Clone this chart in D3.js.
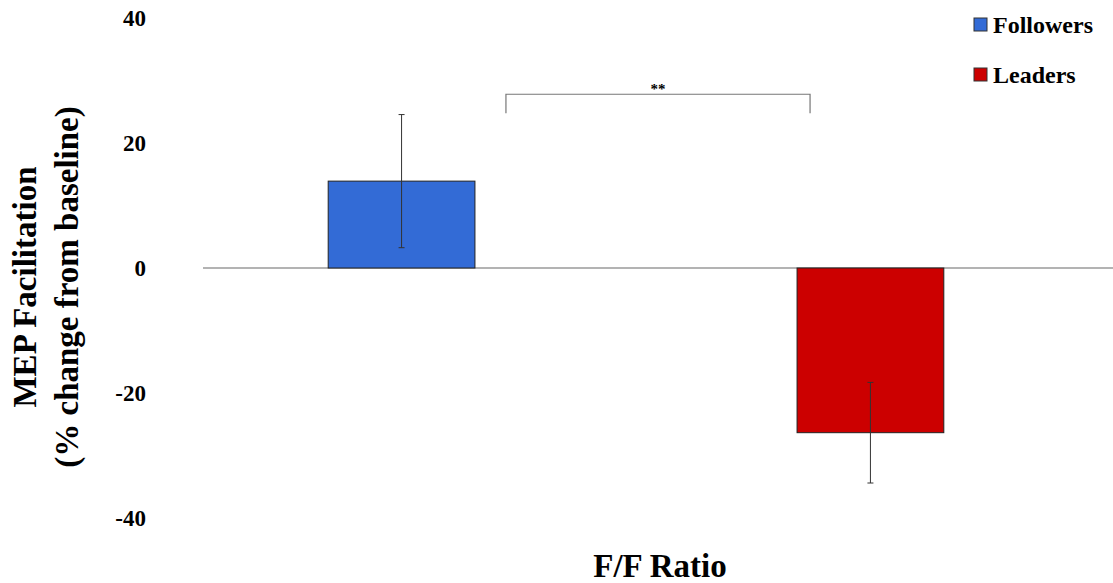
<!DOCTYPE html>
<html>
<head>
<meta charset="utf-8">
<script src="https://cdn.jsdelivr.net/npm/d3@7"></script>
<style>
  html, body { margin: 0; padding: 0; background: #fff; }
  svg { display: block; font-family: "Liberation Serif", "Times New Roman", serif; }
</style>
</head>
<body>
<svg id="chart" width="1113" height="583"></svg>
<script>
// Group means and standard errors (% change from baseline)
const categories = ["Followers", "Leaders"];
const means = [13.9, -26.35];
const errors = [10.65, 8.05];
const colors = ["#336bd6", "#cc0000"];
const yTicks = [40, 20, 0, -20, -40];
const significance = "**";

const svg = d3.select("#chart");

const y = d3.scaleLinear().domain([-40, 40]).range([518, 18]);
const x = d3.scaleBand()
  .domain(categories)
  .range([203, 1069])
  .paddingInner(0.687)
  .paddingOuter(0.267);

// zero baseline across the plot
svg.append("line")
  .attr("x1", 203).attr("x2", 1113)
  .attr("y1", y(0)).attr("y2", y(0))
  .attr("stroke", "#9a9a9a").attr("stroke-width", 1.3);

// y tick labels
svg.append("g").selectAll("text")
  .data(yTicks)
  .join("text")
  .attr("x", 146)
  .attr("y", d => y(d))
  .attr("dy", "0.35em")
  .attr("text-anchor", "end")
  .attr("font-size", 23)
  .attr("font-weight", "bold")
  .text(d => d);

// bars
svg.append("g").selectAll("rect")
  .data(categories)
  .join("rect")
  .attr("x", d => x(d))
  .attr("width", x.bandwidth())
  .attr("y", (d, i) => y(Math.max(0, means[i])))
  .attr("height", (d, i) => Math.abs(y(means[i]) - y(0)))
  .attr("fill", (d, i) => colors[i])
  .attr("stroke", "#222")
  .attr("stroke-width", 1);

// error bars
const eb = svg.append("g").attr("stroke", "#333").attr("stroke-width", 1);
categories.forEach((c, i) => {
  const cx = x(c) + x.bandwidth() / 2;
  const hi = y(means[i] + errors[i]);
  const lo = y(means[i] - errors[i]);
  eb.append("line").attr("x1", cx).attr("x2", cx).attr("y1", hi).attr("y2", lo);
  eb.append("line").attr("x1", cx - 3).attr("x2", cx + 3).attr("y1", hi).attr("y2", hi);
  eb.append("line").attr("x1", cx - 3).attr("x2", cx + 3).attr("y1", lo).attr("y2", lo);
});

// significance bracket between the groups
const bx0 = x("Followers") + x.bandwidth() + 31;
const bx1 = x("Leaders") + 13;
const byTop = y(27.8), byEnd = y(24.75);
svg.append("path")
  .attr("d", `M${bx0},${byEnd}V${byTop}H${bx1}V${byEnd}`)
  .attr("fill", "none")
  .attr("stroke", "#777")
  .attr("stroke-width", 1.2);
svg.append("text")
  .attr("x", (bx0 + bx1) / 2)
  .attr("y", byTop - 0.5)
  .attr("text-anchor", "middle")
  .attr("font-size", 15)
  .attr("font-weight", "bold")
  .text(significance);

// y axis title
const yTitle = svg.append("text")
  .attr("transform", "translate(0,287) rotate(-90)")
  .attr("text-anchor", "middle")
  .attr("font-size", 33)
  .attr("font-weight", "bold");
yTitle.append("tspan").attr("x", 0).attr("y", 36).text("MEP Facilitation");
yTitle.append("tspan").attr("x", 0).attr("y", 78).text("(% change from baseline)");

// x axis title
svg.append("text")
  .attr("x", 660)
  .attr("y", 577)
  .attr("text-anchor", "middle")
  .attr("font-size", 33)
  .attr("font-weight", "bold")
  .text("F/F Ratio");

// legend
const legend = svg.append("g").selectAll("g")
  .data(categories)
  .join("g")
  .attr("transform", (d, i) => `translate(974,${18 + i * 50})`);
legend.append("rect")
  .attr("width", 13).attr("height", 13)
  .attr("fill", (d, i) => colors[i])
  .attr("stroke", "#333").attr("stroke-width", 1);
legend.append("text")
  .attr("x", 19)
  .attr("y", 14.5)
  .attr("font-size", 24)
  .attr("font-weight", "bold")
  .text(d => d);
</script>
</body>
</html>
